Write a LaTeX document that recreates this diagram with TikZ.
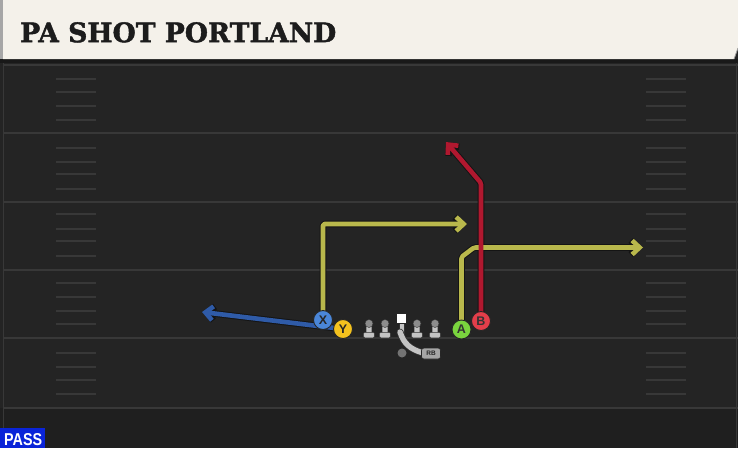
\documentclass[tikz,border=0pt]{standalone}
\usepackage{fontspec}
\usetikzlibrary{arrows.meta}
\newfontfamily\ttlfont[BoldFeatures={FakeBold=1.6}]{DejaVu Serif}
\newfontfamily\lblfont{Liberation Sans}
\definecolor{fieldbg}{HTML}{242424}
\definecolor{yardline}{HTML}{383838}
\definecolor{titlebg}{HTML}{F4F1EA}
\definecolor{titletxt}{HTML}{1C1C1C}
\definecolor{rtyellow}{HTML}{B9B84C}
\definecolor{rtred}{HTML}{B0182F}
\definecolor{rtblue}{HTML}{2F5BA8}
\definecolor{pX}{HTML}{4A86D8}
\definecolor{pY}{HTML}{F4C21E}
\definecolor{pA}{HTML}{7AD43E}
\definecolor{pB}{HTML}{E33E4A}
\definecolor{olgray}{HTML}{C4C4C4}
\definecolor{olhead}{HTML}{8C8C8C}
\definecolor{passblue}{HTML}{0A24D8}
\tikzset{
  yardln/.style={draw=yardline, line width=1.6pt},
  hashln/.style={draw=yardline, line width=1.4pt},
  routeout/.style={draw=black!92, line width=6.6pt, line join=round, rounded corners=1.5pt,
    -{Straight Barb[length=7.5pt,width=14pt]}},
  routein/.style={line width=4.6pt, line join=round, rounded corners=1.5pt,
    -{Straight Barb[length=7.5pt,width=14pt]}},
  player/.style={circle, minimum size=19pt, inner sep=0pt, draw=black!85, line width=0.9pt,
    font=\lblfont\bfseries\fontsize{12.5}{12.5}\selectfont},
  lineman/.pic={
    \filldraw[fill=olgray, draw=black!80, line width=0.4pt, rounded corners=1pt] (-2.8,-6) rectangle (2.8,4);
    \filldraw[fill=olgray, draw=black!80, line width=0.4pt, rounded corners=1.2pt] (-5.3,2.3) rectangle (5.3,7.8);
    \filldraw[fill=olhead, draw=black!80, line width=0.4pt] (0,-6.5) circle (4);
  }
}
\begin{document}
\begin{tikzpicture}[x=1pt,y=-1pt]
\useasboundingbox (0,0) rectangle (738,448);
% field
\fill[fieldbg] (0,0) rectangle (738,448);
\fill[black!88] (0,408) rectangle (738,448);
\draw[yardline, line width=1pt] (3,59) -- (3,448);
\draw[yardline, line width=1pt] (736,59) -- (736,448);
\foreach \yy in {65,133,202,270,338,408} {
  \draw[yardln] (3,\yy) -- (738,\yy);
}
\foreach \yy in {79,92,106,120,148,162,174,189,214,229,241,256,283,297,311,324,353,367,380,394} {
  \draw[hashln] (56,\yy) -- (96,\yy);
  \draw[hashln] (646,\yy) -- (686,\yy);
}
% title bar
\fill[black!90] (0,59) rectangle (738,63);
\fill[titlebg] (3,0) -- (738,0) -- (738,48) -- (734,59) -- (3,59) -- cycle;
\draw[black!40, line width=0.8pt] (738,48) -- (734,59);
\fill[black!35] (0,0) rectangle (3,59);
\node[anchor=north west, inner sep=0pt, text=titletxt] (title) at (20,22)
  {\resizebox{316pt}{20pt}{\ttlfont\bfseries PA SHOT PORTLAND}};
% PASS label
\fill[passblue] (0,428) rectangle (45,448);
\node[anchor=north west, inner sep=0pt, text=white] (pass) at (4,433)
  {\resizebox{38pt}{12pt}{\lblfont\bfseries PASS}};
% player positions (coordinates)
\coordinate (Xc) at (323,320);
\coordinate (Yc) at (343,329);
\coordinate (Ac) at (461.5,329.5);
\coordinate (Bc) at (481,321);
% route waypoints
\coordinate (y1) at (323,224);
\coordinate (y2) at (467,224);
\coordinate (b2) at (202,312);
\coordinate (a1) at (461.5,257);
\coordinate (a2) at (474,247.5);
\coordinate (a3) at (643,247.5);
\coordinate (r1) at (481,183);
\coordinate (r2) at (446,142);
% routes: outlines
\draw[routeout] (Yc) -- (b2);
\draw[routeout] (Xc) -- (y1) -- (y2);
\draw[routeout] (Ac) -- (a1) -- (a2) -- (a3);
\draw[routeout] (Bc) -- (r1) -- (r2);
% routes: colour
\draw[routein, draw=rtblue] (Yc) -- (b2);
\draw[routein, draw=rtyellow] (Xc) -- (y1) -- (y2);
\draw[routein, draw=rtyellow] (Ac) -- (a1) -- (a2) -- (a3);
\draw[routein, draw=rtred] (Bc) -- (r1) -- (r2);
% red over yellow crossing
\draw[line width=4.6pt, draw=rtred] (481,240) -- (481,255);
% offensive line
\pic at (369,330) {lineman};
\pic at (385,330) {lineman};
\pic at (417,330) {lineman};
\pic at (435,330) {lineman};
% center
\filldraw[fill=olgray, draw=black!80, line width=0.4pt] (398.8,322) rectangle (404.2,334);
\draw[draw=black!80, line width=7pt, line cap=round] (400,332) .. controls (404,344) and (410,349) .. (423,353);
\draw[draw=olgray, line width=5.4pt, line cap=round] (400,332) .. controls (404,344) and (410,349) .. (423,353);
\node[draw=black!85, fill=white, line width=0.8pt, minimum size=10pt, inner sep=0pt] (C) at (401.5,318.5) {};
% QB and RB
\node[circle, fill=black!55, minimum size=9pt, inner sep=0pt] (QB) at (402,353) {};
\node[draw=black!85, fill=black!35, rounded corners=2.5pt, line width=0.6pt, minimum width=19pt,
  minimum height=11pt, inner sep=0pt, text=black!85, font=\lblfont\bfseries\fontsize{6.5}{6.5}\selectfont] (RB) at (431,353.5) {RB};
% skill players
\node[player, fill=pX, text=black!85] (X) at (Xc) {X};
\node[player, fill=pY, text=black!85] (Y) at (Yc) {Y};
\node[player, fill=pA, text=black!80] (A) at (Ac) {A};
\node[player, fill=pB, text=black!80] (B) at (Bc) {B};
\end{tikzpicture}
\end{document}
